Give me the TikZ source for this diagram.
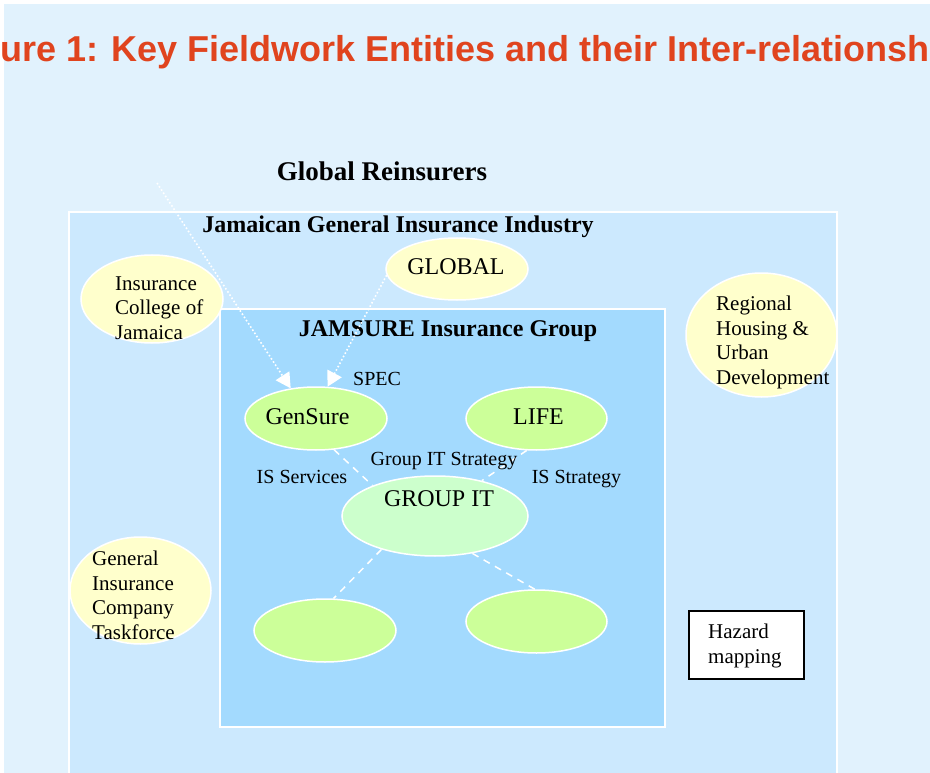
\documentclass[tikz,border=0pt]{standalone}
\usepackage{fontspec}
\setmainfont{Liberation Serif}
\newfontfamily\headfont{Liberation Sans}
\usetikzlibrary{shapes.geometric,arrows.meta}

\definecolor{pagebg}{RGB}{225,242,253}
\definecolor{industrybg}{RGB}{204,233,254}
\definecolor{groupbg}{RGB}{163,218,254}
\definecolor{paleyellow}{RGB}{255,255,204}
\definecolor{limegreen}{RGB}{204,255,153}
\definecolor{mintgreen}{RGB}{204,255,204}
\definecolor{headred}{RGB}{224,68,30}

\tikzset{
  blob/.style={ellipse, draw=white, line width=1.5pt, inner sep=0pt},
  outsider/.style={blob, fill=paleyellow},
  unit/.style={blob, fill=limegreen},
  panel/.style={draw=white, line width=1.5pt},
  % multi-line text is placed by the baseline of its last line
  body/.style={inner sep=0pt, anchor=base west, align=left, font=\fontsize{21}{24.5}\selectfont},
  unitname/.style={inner sep=0pt, anchor=base, font=\fontsize{24}{28}\selectfont},
  linklabel/.style={inner sep=0pt, anchor=base, font=\fontsize{20}{24}\selectfont},
  heading/.style={inner sep=0pt, anchor=base, font=\bfseries\fontsize{24}{28}\selectfont},
  feed/.style={draw=white, line width=1.6pt, dash pattern=on 1.6pt off 2.2pt,
               -{Triangle[width=16pt,length=15pt,fill=white,sep=0pt]}},
  tie/.style={draw=white, line width=1.5pt, dash pattern=on 7pt off 6pt},
}

\begin{document}
\begin{tikzpicture}[x=1pt, y=-1pt]
  \useasboundingbox (0,0) rectangle (930,773);
  \clip (0,0) rectangle (930,773);

  % page
  \fill[white] (0,0) rectangle (930,773);
  \fill[pagebg] (4,4) rectangle (930,773);

  % heading
  \node[inner sep=0pt, anchor=base, text=headred,
        font=\headfont\bfseries\fontsize{36}{40}\selectfont] (head) at (465,62)
        {ure 1: Key Fieldwork Entities and their Inter-relationsh};

  \node[inner sep=0pt, anchor=base, font=\bfseries\fontsize{27}{30}\selectfont]
        (reinsurers) at (382,181) {Global Reinsurers};
  \coordinate (reinsfeed) at (157,183);

  % industry and group panels
  \path[panel, fill=industrybg] (69,212) rectangle (837,800);
  \node[heading] (industry) at (398,233) {Jamaican General Insurance Industry};
  \path[panel, fill=groupbg] (220,309) rectangle (665,727);
  \node[heading] (jamsure) at (448,336) {JAMSURE Insurance Group};

  % outside bodies
  \node[outsider, minimum width=142, minimum height=88] (college) at (152,299) {};
  \node[body] (collegetext) at (115,339) {Insurance\\College of\\Jamaica};

  \node[outsider, minimum width=142, minimum height=62] (global) at (457,269) {};
  \node[unitname] (globaltext) at (456,274) {GLOBAL};

  \node[outsider, minimum width=151, minimum height=124] (regional) at (761.5,335) {};
  \node[body] (regionaltext) at (716,384) {Regional\\Housing \&\\Urban\\Development};

  \node[outsider, minimum width=141, minimum height=107] (taskforce) at (140.5,590.5) {};
  \node[body] (taskforcetext) at (92,639) {General\\Insurance\\Company\\Taskforce};

  \node[draw=black, fill=white, line width=2pt, minimum width=115, minimum height=68,
        inner sep=0pt] (hazard) at (746.5,645) {};
  \node[body] (hazardtext) at (708,663) {Hazard\\mapping};

  % group units
  \node[unit, minimum width=142, minimum height=63] (gensure) at (316,418.5) {};
  \node[unitname] (gensuretext) at (307.5,424) {GenSure};
  \node[unit, minimum width=141, minimum height=63] (life) at (536.5,418.5) {};
  \node[unitname] (lifetext) at (538.5,424) {LIFE};
  \node[blob, fill=mintgreen, minimum width=186, minimum height=80] (groupit) at (435,516) {};
  \node[unitname] (groupittext) at (439,506) {GROUP IT};
  \node[unit, minimum width=142, minimum height=63] (unitA) at (325,630.5) {};
  \node[unit, minimum width=141, minimum height=63] (unitB) at (536.5,621.5) {};

  % links
  \draw[feed] (reinsfeed) -- (gensure.130.6);
  \draw[feed] (global.185) -- (gensure.70.7);
  \node[linklabel, anchor=base west] (spec) at (353,385) {SPEC};

  \draw[tie] (gensure.-60) -- (groupit.154);
  \draw[tie] (life.253) -- (groupit.37.5);
  \draw[tie] (groupit.212.6) -- (unitA.75);
  \draw[tie] (groupit.315.7) -- (unitB.93);

  \node[linklabel] (isserv) at (302,483) {IS Services};
  \node[linklabel] (gitstrat) at (444,465) {Group IT Strategy};
  \node[linklabel] (isstrat) at (576.5,483) {IS Strategy};
\end{tikzpicture}
\end{document}
